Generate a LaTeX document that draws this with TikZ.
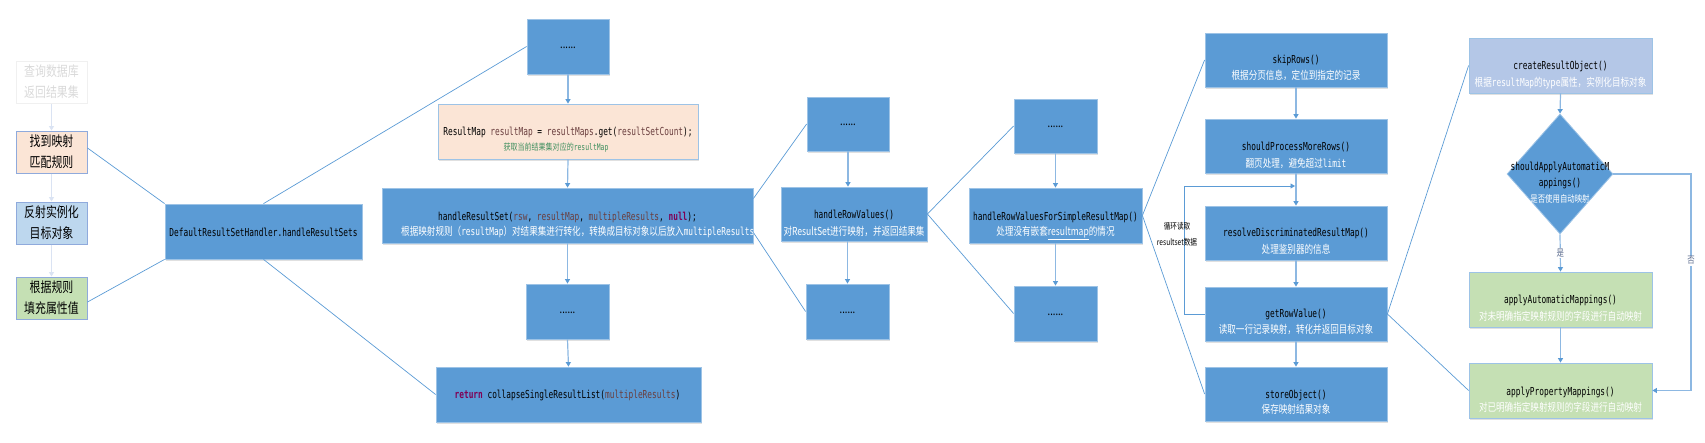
\documentclass[tikz,border=0pt]{standalone}
\usepackage{fontspec}
\setmainfont[FakeStretch=0.78]{Noto Sans CJK SC}
\setmonofont[FakeStretch=0.71]{DejaVu Sans Mono}
\usetikzlibrary{shapes.geometric,arrows.meta,shadows,calc}
\definecolor{bx}{HTML}{5B9BD5}
\definecolor{bxline}{HTML}{9DC3E6}
\definecolor{arrline}{HTML}{8DB8E2}
\definecolor{peach}{HTML}{FBE5D6}
\definecolor{lblue}{HTML}{BDD7EE}
\definecolor{lgreen}{HTML}{C5E0B4}
\definecolor{lav}{HTML}{B4C7E7}
\definecolor{lline}{HTML}{8FAADC}
\definecolor{faint}{HTML}{DAE3F3}
\definecolor{var}{HTML}{6A3E3E}
\definecolor{kw}{HTML}{7F0055}
\definecolor{cmt}{HTML}{3F8F5F}
\definecolor{lab}{HTML}{5D6D8F}
\newcommand\vv[1]{\textcolor{var}{#1}}
\newcommand\kk[1]{\textcolor{kw}{\bfseries #1}}
\begin{document}
\begin{tikzpicture}[x=1pt,y=-1pt,
  bbox/.style={rectangle, draw=bxline, fill=bx, line width=0.8pt, inner sep=0pt,
    general shadow={fill=black, opacity=0.12, shadow yshift=-1.5pt, shadow xshift=0.5pt}},
  dotbox/.style={bbox, minimum width=83pt, minimum height=55pt},
  c3box/.style={bbox, minimum width=182pt, minimum height=54pt},
  c4box/.style={bbox, minimum width=183pt, minimum height=55pt},
  lbox/.style={rectangle, draw=lline, line width=1pt, minimum width=71pt, minimum height=42pt,
    inner sep=0pt, align=center, font=\fontsize{14}{21}\selectfont},
  code/.style={font=\ttfamily\fontsize{11}{13}\selectfont, text=black, inner sep=0pt},
  desc/.style={font=\fontsize{11}{13}\selectfont, text=white, inner sep=0pt},
  dtxt/.style={font=\fontsize{12}{13}\selectfont, text=black, inner sep=0pt, anchor=base},
  flow/.style={draw=arrline, line width=1.2pt, -{Triangle[width=5pt,length=4.5pt,color=bx]}},
  fflow/.style={draw=faint, line width=1.2pt, -{Triangle[width=5pt,length=4.5pt,color=faint]}},
  conn/.style={draw=bx, line width=0.7pt},
  lbl/.style={font=\fontsize{9.5}{11}\selectfont, text=lab, fill=white, inner sep=1pt}
]
\useasboundingbox (0,0) rectangle (1705,442);

% left column
\node[lbox, draw=black!6, text=black!15] (q0) at (51.5,82) {查询数据库\\返回结果集};
\node[lbox, fill=peach] (q1) at (51.5,152) {找到映射\\匹配规则};
\node[lbox, fill=lblue] (q2) at (51.5,223) {反射实例化\\目标对象};
\node[lbox, fill=lgreen] (q3) at (51.5,298) {根据规则\\填充属性值};
\draw[fflow] (q0.south) -- (q1.north);
\draw[fflow] (q1.south) -- (q2.north);
\draw[fflow] (q2.south) -- (q3.north);

% main handler
\node[bbox, minimum width=197pt, minimum height=55pt] (drsh) at (263.5,231.5) {};
\node[code] (tdrsh) at (263.5,232) {DefaultResultSetHandler.handleResultSets};

% column 1
\node[bbox, minimum width=82pt, minimum height=55pt] (c1top) at (568,46.5) {};
\node[dtxt] (d1) at (568,48) {......};
\node[rectangle, draw=bxline, fill=peach, line width=0.8pt, inner sep=0pt, minimum width=260pt, minimum height=55pt,
  general shadow={fill=black, opacity=0.12, shadow yshift=-1.5pt, shadow xshift=0.5pt}] (rmap) at (568,131.5) {};
\node[code] (trmap1) at (568,132) {ResultMap \vv{resultMap} = \vv{resultMaps}.get(\vv{resultSetCount});};
\node[inner sep=0pt, text=cmt, font=\fontsize{9}{10}\selectfont] (trmap2) at (556,148) {获取当前结果集对应的{\ttfamily resultMap}};
\node[bbox, minimum width=371pt, minimum height=55pt] (hrs) at (567.5,215.5) {};
\node[code] (thrs1) at (567.5,217) {handleResultSet(\vv{rsw}, \vv{resultMap}, \vv{multipleResults}, \kk{null});};
\node[desc, anchor=west] (thrs2) at (401,232) {根据映射规则（{\ttfamily resultMap}）对结果集进行转化，转换成目标对象以后放入{\ttfamily multipleResults}中};
\node[dotbox] (c1dots) at (567.5,311.5) {};
\node[dtxt] (d2) at (567.5,313) {......};
\node[bbox, minimum width=265pt, minimum height=55pt] (ret) at (568.5,394.5) {};
\node[code] (tret) at (567.5,395) {\kk{return} collapseSingleResultList(\vv{multipleResults})};

\draw[flow] (c1top.south) -- (rmap.north);
\draw[flow] (rmap.south) -- (hrs.north);
\draw[flow] (hrs.south) -- (c1dots.north);
\draw[flow] (c1dots.south) -- (ret.north);

% column 2
\node[bbox, minimum width=82pt, minimum height=54pt] (c2top) at (848,124) {};
\node[dtxt] (d3) at (848,125.5) {......};
\node[bbox, minimum width=146pt, minimum height=54pt] (hrv) at (854,214) {};
\node[code] (thrv1) at (854,215) {handleRowValues()};
\node[desc] (thrv2) at (854,231) {对ResultSet进行映射，并返回结果集};
\node[dotbox] (c2bot) at (847.5,311.5) {};
\node[dtxt] (d4) at (847.5,313) {......};
\draw[flow] (c2top.south) -- (c2top.south |- hrv.north);
\draw[flow] (c2bot.north |- hrv.south) -- (c2bot.north);

% column 3
\node[bbox, minimum width=83pt, minimum height=54pt] (c3top) at (1055.5,126) {};
\node[dtxt] (d5) at (1055.5,127.5) {......};
\node[bbox, minimum width=173pt, minimum height=55pt] (hrvs) at (1055.5,215.5) {};
\node[code] (thrvs1) at (1055.5,217) {handleRowValuesForSimpleResultMap()};
\node[desc] (thrvs2) at (1055.5,233) {处理没有嵌套\underline{resultmap}的情况};
\node[dotbox] (c3bot) at (1055.5,313.5) {};
\node[dtxt] (d6) at (1055.5,315) {......};
\draw[flow] (c3top.south) -- (hrvs.north);
\draw[flow] (hrvs.south) -- (c3bot.north);

% column 4
\node[c3box] (skip) at (1296,60) {};
\node[code] (tskip1) at (1296,60) {skipRows()};
\node[desc] (tskip2) at (1296,75) {根据分页信息，定位到指定的记录};
\node[c3box] (spmr) at (1296,146) {};
\node[code] (tspmr1) at (1296,147) {shouldProcessMoreRows()};
\node[desc] (tspmr2) at (1296,163) {翻页处理，避免超过{\ttfamily limit}};
\node[c3box] (rdrm) at (1296,233) {};
\node[code] (trdrm1) at (1296,233) {resolveDiscriminatedResultMap()};
\node[desc] (trdrm2) at (1296,249) {处理鉴别器的信息};
\node[c3box] (grv) at (1296,314) {};
\node[code] (tgrv1) at (1296,314) {getRowValue()};
\node[desc] (tgrv2) at (1296,329) {读取一行记录映射，转化并返回目标对象};
\node[c3box] (store) at (1296,394) {};
\node[code] (tstore1) at (1296,395) {storeObject()};
\node[desc] (tstore2) at (1296,409) {保存映射结果对象};
\draw[flow] (skip.south) -- (spmr.north);
\draw[flow] (spmr.south) -- (rdrm.north);
\draw[flow] (rdrm.south) -- (grv.north);
\draw[flow] (grv.south) -- (store.north);
\coordinate (lpx) at (1184,186);
\coordinate (loopend) at (1295,186);
\draw[conn, -{Triangle[width=5pt,length=4.5pt]}] (grv.west) -| (lpx) -- (loopend);
\node[inner sep=0pt, text=black, font=\fontsize{8.5}{10}\selectfont] (lp1) at (1177,226) {循环读取};
\node[inner sep=0pt, text=black, font=\fontsize{8.5}{10}\selectfont] (lp2) at (1177,242) {resultset数据};

% column 5
\node[c4box, fill=lav] (cro) at (1560.5,65.5) {};
\node[code] (tcro1) at (1560.5,66) {createResultObject()};
\node[desc] (tcro2) at (1560.5,83) {根据{\ttfamily resultMap}的type属性，实例化目标对象};
\node[diamond, draw=bxline, fill=bx, line width=0.8pt, inner sep=0pt, minimum width=106pt, minimum height=120pt] (dia) at (1560,174) {};
\node[code] (tdia1) at (1560,167) {shouldApplyAutomaticM};
\node[code] (tdia2) at (1560,183) {appings()};
\node[desc, font=\fontsize{9.5}{11}\selectfont] (tdia3) at (1560,199) {是否使用自动映射};
\node[c4box, fill=lgreen] (aam) at (1560.5,299.5) {};
\node[code] (taam1) at (1560.5,300) {applyAutomaticMappings()};
\node[desc] (taam2) at (1560.5,316) {对未明确指定映射规则的字段进行自动映射};
\node[c4box, fill=lgreen] (apm) at (1560.5,390.5) {};
\node[code] (tapm1) at (1560.5,392) {applyPropertyMappings()};
\node[desc] (tapm2) at (1560.5,407) {对已明确指定映射规则的字段进行自动映射};
\draw[flow] (cro.south) -- (dia.north);
\draw[flow] (dia.south) -- (aam.north) node[lbl, pos=0.5] (yes) {是};
\draw[flow] (aam.south) -- (apm.north);
\coordinate (nocorner) at (1691,174);
\draw[flow] (dia.east) -- (nocorner) |- (apm.east) node[lbl, pos=0.2] (no) {否};

% connectors
\draw[conn] ([yshift=4pt]q1.east) -- (drsh.north west);
\draw[conn] ([yshift=-4pt]q3.east) -- (drsh.south west);
\draw[conn] (drsh.north) -- (c1top.west);
\draw[conn] (drsh.south) -- (ret.west);
\draw[conn] ([yshift=17pt]hrs.east) -- (c2top.west);
\draw[conn] ([yshift=-17pt]hrs.east) -- (c2bot.west);
\draw[conn] (hrv.east) -- (c3top.west);
\draw[conn] (hrv.east) -- (c3bot.west);
\draw[conn] (hrvs.east) -- (skip.west);
\draw[conn] (hrvs.east) -- (store.west);
\draw[conn] (grv.east) -- (cro.west);
\draw[conn] (grv.east) -- (apm.west);
\end{tikzpicture}
\end{document}
